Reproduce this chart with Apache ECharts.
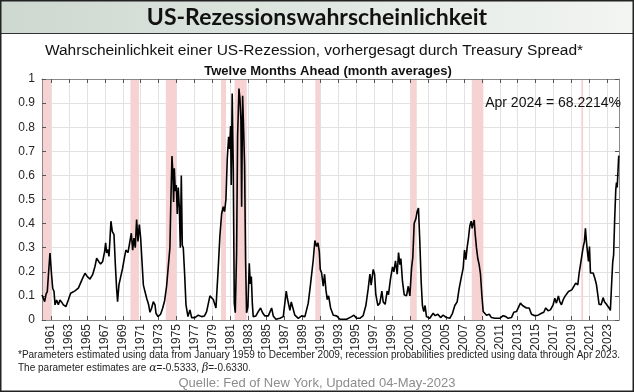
<!DOCTYPE html>
<html><head><meta charset="utf-8">
<script src="https://cdn.jsdelivr.net/npm/echarts@6/dist/echarts.min.js"></script>
<style>html,body{margin:0;padding:0;background:#fff}#c{width:634px;height:392px}</style>
</head><body><div id="c"></div>
<script>
// ---- data (decimal years, probability 0..1) ----
const dates = [
1960.00,1960.15,1960.30,1960.45,1960.59,1960.74,1960.89,1961.04,1961.19,1961.34,1961.45,1961.63,1961.82,1962.00,1962.19,1962.38,1962.67,1962.93,1963.19,1963.41,1963.67,1963.86,1964.05,1964.23,1964.53,1964.79,1965.05,1965.35,1965.64,1965.90,1966.09,1966.31,1966.53,1966.76,1966.98,1967.09,1967.20,1967.35,1967.46,1967.57,1967.68,1967.83,1968.02,1968.17,1968.31,1968.42,1968.57,1968.76,1968.98,
1969.21,1969.35,1969.58,1969.80,1969.95,1970.10,1970.24,1970.39,1970.54,1970.69,1970.84,1970.99,1971.14,1971.29,1971.47,1971.66,1971.88,1972.03,1972.21,1972.40,1972.59,1972.70,1972.92,1973.21,1973.44,1973.66,1973.88,1974.11,1974.25,1974.36,1974.48,1974.59,1974.66,1974.74,1974.85,1974.96,1975.07,1975.18,1975.30,1975.41,1975.52,1975.63,1975.74,1975.89,1976.04,1976.26,1976.48,1976.67,1977.04,1977.41,1977.78,1978.10,1978.34,1978.71,1979.08,1979.38,1979.64,1979.82,
1980.01,1980.19,1980.34,1980.49,1980.64,1980.79,1980.90,1981.01,1981.08,1981.19,1981.31,1981.42,1981.53,1981.68,1981.79,1981.94,1982.05,1982.16,1982.24,1982.35,1982.46,1982.57,1982.68,1982.79,1982.94,1983.09,1983.21,1983.32,1983.43,1983.53,1983.83,1984.09,1984.35,1984.57,1984.83,1985.21,1985.58,1985.76,1986.06,1986.50,1986.88,1987.10,1987.21,1987.36,1987.51,1987.62,1987.77,1987.99,1988.17,1988.55,1988.92,1989.29,1989.66,1989.92,
1990.22,1990.40,1990.59,1990.74,1990.89,1991.00,1991.15,1991.33,1991.48,1991.63,1991.78,1991.93,1992.15,1992.45,1992.82,1993.19,1993.93,1994.49,1994.75,1995.04,1995.41,1995.78,1996.08,1996.34,1996.53,1996.67,1996.90,1997.05,1997.19,1997.42,1997.64,1997.86,1998.01,1998.23,1998.45,1998.60,1998.82,1999.05,1999.20,1999.38,1999.57,1999.72,1999.87,1999.98,
2000.16,2000.35,2000.61,2000.80,2000.98,2001.17,2001.31,2001.46,2001.65,2001.79,2001.94,2002.09,2002.24,2002.38,2002.53,2002.68,2002.83,2003.20,2003.58,2003.80,2004.10,2004.40,2004.69,2005.06,2005.43,2005.73,2005.99,2006.25,2006.47,2006.70,2006.92,2007.07,2007.22,2007.36,2007.51,2007.66,2007.81,2007.92,2008.03,2008.15,2008.26,2008.40,2008.55,2008.70,2008.85,2009.00,2009.15,2009.33,2009.52,2009.82,
2010.07,2010.45,2011.00,2011.37,2011.67,2011.93,2012.30,2012.56,2012.86,2013.08,2013.30,2013.53,2013.75,2013.97,2014.27,2014.53,2014.90,2015.27,2015.64,2015.90,2016.12,2016.38,2016.64,2016.94,2017.13,2017.31,2017.53,2017.68,2017.87,2018.05,2018.24,2018.42,2018.65,2018.80,2019.02,2019.24,2019.46,2019.69,2019.84,2019.99,
2020.13,2020.28,2020.43,2020.54,2020.65,2020.76,2020.88,2020.99,2021.10,2021.25,2021.40,2021.58,2021.77,2021.92,2022.06,2022.29,2022.51,2022.66,2022.88,2023.03,2023.17,2023.32,2023.47,2023.58,2023.68,2023.80,2023.92,2024.00,2024.08,2024.17,2024.25
];
const probs = [
0.104,0.097,0.076,0.107,0.118,0.20,0.278,0.20,0.132,0.118,0.063,0.083,0.063,0.083,0.074,0.063,0.056,0.083,0.111,0.104,0.121,0.118,0.132,0.125,0.174,0.194,0.18,0.17,0.188,0.222,0.257,0.243,0.232,0.243,0.285,0.32,0.278,0.292,0.264,0.333,0.41,0.368,0.354,0.23,0.132,0.076,0.146,0.153,0.215,
0.264,0.29,0.28,0.285,0.36,0.29,0.34,0.30,0.417,0.326,0.396,0.34,0.243,0.146,0.118,0.09,0.063,0.032,0.049,0.076,0.063,0.028,0.014,0.024,0.049,0.08,0.14,0.24,0.30,0.50,0.68,0.60,0.49,0.63,0.535,0.56,0.44,0.55,0.465,0.30,0.60,0.31,0.30,0.19,0.063,0.014,0.042,0.01,0.01,0.02,0.014,0.017,0.035,0.10,0.085,0.05,0.22,0.35,
0.44,0.47,0.45,0.50,0.67,0.76,0.71,0.805,0.56,0.94,0.625,0.07,0.03,0.28,0.76,0.96,0.92,0.83,0.47,0.93,0.79,0.64,0.25,0.03,0.055,0.235,0.15,0.18,0.07,0.014,0.017,0.035,0.05,0.03,0.017,0.017,0.05,0.017,0.003,0.007,0.014,0.085,0.12,0.085,0.09,0.04,0.075,0.07,0.02,0.007,0.017,0.014,0.07,0.15,
0.25,0.33,0.305,0.32,0.285,0.21,0.195,0.14,0.19,0.125,0.085,0.10,0.05,0.02,0.017,0.003,0.003,0.014,0.02,0.007,0.007,0.018,0.06,0.13,0.19,0.145,0.21,0.19,0.105,0.06,0.07,0.12,0.075,0.065,0.12,0.105,0.17,0.22,0.20,0.245,0.19,0.28,0.23,0.255,
0.16,0.105,0.10,0.14,0.10,0.215,0.26,0.40,0.42,0.45,0.465,0.325,0.16,0.06,0.035,0.06,0.014,0.007,0.028,0.018,0.024,0.01,0.02,0.01,0.007,0.028,0.06,0.075,0.13,0.175,0.215,0.29,0.25,0.30,0.34,0.39,0.41,0.38,0.40,0.415,0.355,0.30,0.255,0.23,0.19,0.105,0.035,0.028,0.02,0.024,
0.01,0.007,0.007,0.018,0.014,0.007,0.01,0.032,0.035,0.04,0.07,0.06,0.055,0.05,0.05,0.024,0.018,0.02,0.028,0.032,0.05,0.038,0.042,0.063,0.09,0.07,0.10,0.076,0.063,0.083,0.097,0.104,0.118,0.11,0.125,0.132,0.153,0.146,0.195,0.23,
0.264,0.30,0.326,0.38,0.326,0.285,0.243,0.305,0.195,0.188,0.195,0.174,0.146,0.104,0.065,0.063,0.093,0.076,0.065,0.07,0.05,0.04,0.16,0.24,0.27,0.42,0.54,0.57,0.55,0.62,0.682
];
const recessionStarts = [1960.0, 1969.85, 1973.8, 1979.95, 1981.45, 1990.45, 2001.05, 2007.88, 2020.08];
const recessionEnds   = [1961.0, 1970.8, 1975.0, 1980.5, 1982.8, 1991.0, 2001.75, 2009.17, 2020.28];
const yearTicks = [1961,1963,1965,1967,1969,1971,1973,1975,1977,1979,1981,1983,1985,1987,1989,1991,1993,1995,1997,1999,2001,2003,2005,2007,2009,2011,2013,2015,2017,2019,2021,2023];
const lastLabel = 'Apr 2024 = 68.2214%';

const chart = echarts.init(document.getElementById('c'), null, {renderer:'canvas'});
const lineData = dates.map((d,i)=>[d, probs[i]]);
const areas = recessionStarts.map((s,i)=>[{xAxis:s},{xAxis:recessionEnds[i]}]);
const gridColor = '#e2e2e2', frameColor = '#8a8a8a', tickColor = '#555';
const F = "'Liberation Sans', Arial, sans-serif";

chart.setOption({
  animation:false,
  backgroundColor:'#fff',
  grid:{left:42, right:15, top:79, bottom:72, containLabel:false},
  xAxis:[{
    type:'value', min:1960, max:2024.28, position:'bottom', z:1,
    axisLine:{show:true, onZero:false, lineStyle:{color:frameColor, width:1}},
    axisTick:{show:true, inside:true, length:4, customValues:yearTicks, lineStyle:{color:tickColor}},
    axisLabel:{show:true, customValues:yearTicks, rotate:90, fontSize:12, fontFamily:F, color:'#262626', margin:4, formatter:v=>String(v)},
    splitLine:{show:true, lineStyle:{color:gridColor, width:1}}
  },{
    type:'value', min:1960, max:2024.28, position:'top', z:1,
    axisLine:{show:true, onZero:false, lineStyle:{color:frameColor, width:1}},
    axisTick:{show:true, inside:true, length:4, customValues:yearTicks, lineStyle:{color:tickColor}},
    axisLabel:{show:false}, splitLine:{show:false}
  }],
  yAxis:[{
    type:'value', min:0, max:1, interval:0.1, position:'left', z:1,
    axisLine:{show:true, onZero:false, lineStyle:{color:frameColor, width:1}},
    axisTick:{show:true, inside:true, length:4, lineStyle:{color:tickColor}},
    axisLabel:{fontSize:12, fontFamily:F, color:'#262626', margin:7},
    splitLine:{show:true, lineStyle:{color:gridColor, width:1}}
  },{
    type:'value', min:0, max:1, interval:0.1, position:'right', z:1,
    axisLine:{show:true, onZero:false, lineStyle:{color:frameColor, width:1}},
    axisTick:{show:true, inside:true, length:4, lineStyle:{color:tickColor}},
    axisLabel:{show:false}, splitLine:{show:false}
  }],
  series:[{
    name:'recessions', type:'line', data:[], z:0, silent:true,
    markArea:{silent:true, itemStyle:{color:'#f6d2d2'}, data:areas}
  },{
    name:'prob', type:'line', data:lineData, showSymbol:false, z:3,
    lineStyle:{color:'#000', width:1.6}, silent:true
  }],
  graphic:[
    {type:'rect', z:-1, shape:{x:0,y:0,width:634,height:33},
     style:{fill:new echarts.graphic.LinearGradient(0,0,1,0,[{offset:0,color:'#cdd8d0'},{offset:1,color:'#f2f5f2'}])}},
    {type:'line', shape:{x1:0,y1:33.5,x2:634,y2:33.5}, style:{stroke:'#333', lineWidth:1}},
    {type:'rect', shape:{x:0.75,y:0.75,width:632.5,height:390.5}, style:{fill:null, stroke:'#222', lineWidth:1.5}},
    {type:'text', style:{text:'US-Rezessionswahrscheinlichkeit', x:317, y:18, textAlign:'center', textVerticalAlign:'middle', font:"bold 23px Lato, 'Open Sans', sans-serif", fill:'#111'}},
    {type:'text', style:{text:'Wahrscheinlichkeit einer US-Rezession, vorhergesagt durch Treasury Spread*', x:314, y:51, textAlign:'center', textVerticalAlign:'middle', fontSize:15.5, fontFamily:F, fill:'#111'}},
    {type:'text', style:{text:'Twelve Months Ahead (month averages)', x:328, y:71, textAlign:'center', textVerticalAlign:'middle', fontSize:13, fontWeight:'bold', fontFamily:F, fill:'#111'}},
    {type:'text', z:10, style:{text:lastLabel, x:621, y:103, textAlign:'right', textVerticalAlign:'middle', fontSize:14, fontFamily:F, fill:'#111'}},
    {type:'text', style:{text:'*Parameters estimated using data from January 1959 to December 2009, recession probabilities predicted using data through Apr 2023.', x:18, y:355, textVerticalAlign:'middle', fontSize:10, fontFamily:F, fill:'#222'}},
    {type:'text', style:{text:'The parameter estimates are {g|α}=-0.5333, {g|β}=-0.6330.', x:18, y:368, textVerticalAlign:'middle', fontSize:10, fontFamily:F, fill:'#222',
      rich:{g:{fontStyle:'italic', fontSize:11, fontFamily:"'DejaVu Serif', serif", fill:'#222'}}}},
    {type:'text', style:{text:'Quelle: Fed of New York, Updated 04-May-2023', x:317, y:383, textAlign:'center', textVerticalAlign:'middle', fontSize:13, fontFamily:F, fill:'#8c8c8c'}}
  ]
});
</script></body></html>
